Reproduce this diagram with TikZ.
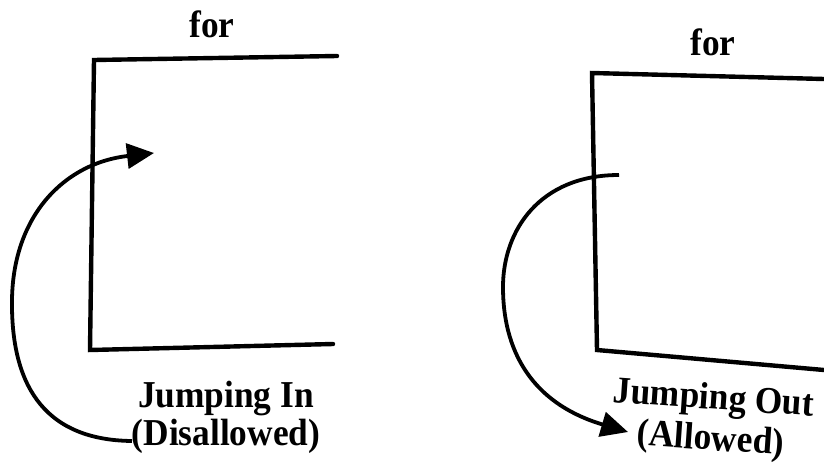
\documentclass[tikz,border=0pt]{standalone}
\usepackage{fontspec}
\setmainfont{Liberation Serif}
\usetikzlibrary{arrows.meta}
\newcommand{\cnd}[1]{\scalebox{0.93}[1]{#1}}
\begin{document}
\begin{tikzpicture}[x=1pt,y=-1pt,
  bar/.style={line width=4.4pt,line cap=round,line join=miter},
  jump/.style={line width=3.8pt,-{Triangle[length=27pt,width=25pt]}},
  lbl/.style={font=\bfseries\fontsize{38}{38}\selectfont,inner sep=0pt,anchor=base,align=center}]
\useasboundingbox (0,0) rectangle (824,466);
% left diagram
\node[lbl] (for1) at (212,37) {\cnd{for}};
\coordinate (l1) at (337,56);
\coordinate (l2) at (94,60);
\coordinate (l3) at (90,350);
\coordinate (l4) at (333,344);
\draw[bar] (l1) -- (l2) -- (l3) -- (l4);
\node[lbl] (jin) at (226,445) {\cnd{Jumping In}\\\cnd{(Disallowed)}};
\coordinate (js) at (132,441);
\coordinate (jt) at (154,153);
\draw[jump] (js) .. controls (40,440) and (11,380) .. (12,300)
  .. controls (13,215) and (65,163) .. (jt);
% right diagram
\node[lbl] (for2) at (713,55) {\cnd{for}};
\coordinate (r1) at (592,73);
\coordinate (r2) at (824,79);
\coordinate (r3) at (597,350);
\coordinate (r4) at (824,370);
\draw[bar] (r2) -- (r1) -- (r3) -- (r4);
\node[lbl,font=\bfseries\fontsize{38}{41}\selectfont,rotate=-4] (jout) at (710,450) {\cnd{Jumping Out}\\\cnd{(Allowed)}};
\coordinate (os) at (619,175);
\coordinate (ot) at (628,432);
\draw[jump] (os) .. controls (540,175) and (503,230) .. (503,287)
  .. controls (503,360) and (540,406) .. (ot);
\end{tikzpicture}
\end{document}
